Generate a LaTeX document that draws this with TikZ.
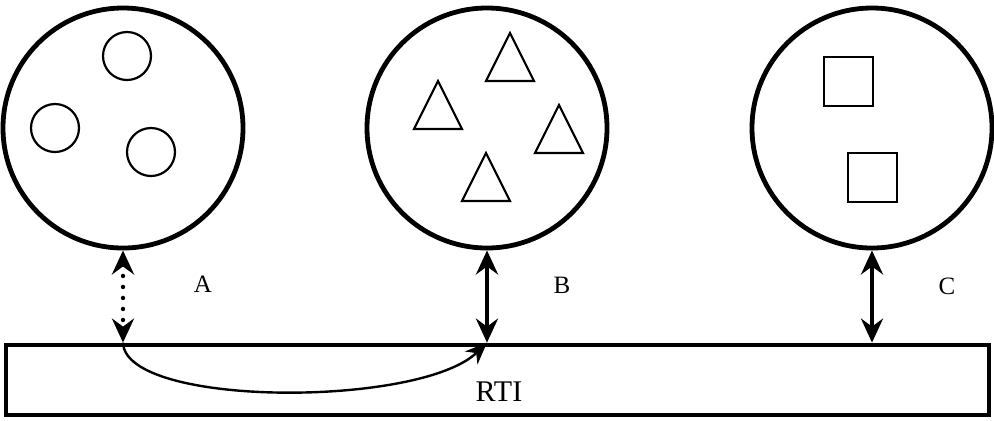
\documentclass[tikz,border=0pt]{standalone}
\usepackage{fontspec}
\setmainfont{Liberation Serif}
\usetikzlibrary{arrows.meta}

\begin{document}
\begin{tikzpicture}[
  x=0.5pt, y=-0.5pt,
  bigcirc/.style={circle, draw, line width=2.4pt, minimum size=120pt, inner sep=0pt},
  smallcirc/.style={circle, draw, line width=1.1pt, minimum size=24pt, inner sep=0pt},
  token/.style={draw, line width=1.1pt, line join=miter},
  curvetip/.style={-{Stealth[length=11pt, width=9pt, inset=3.5pt]}},
  twohead/.style={{Stealth[length=12pt, width=11pt, inset=4pt]}-{Stealth[length=12pt, width=11pt, inset=4pt]}},
  link/.style={twohead, line width=2pt},
  dotlink/.style={twohead, line width=2.2pt, line cap=round, dash pattern=on 0pt off 5.5pt},
  lbl/.style={font=\fontsize{12.5}{14}\selectfont, inner sep=0pt}
]
\useasboundingbox (0,0) rectangle (994,420);

% the three clusters
\node[bigcirc] (pA) at (123,128) {};
\node[bigcirc] (pB) at (487,128) {};
\node[bigcirc] (pC) at (872,128) {};

\node[smallcirc] (a1) at (127,56) {};
\node[smallcirc] (a2) at (55,128) {};
\node[smallcirc] (a3) at (151,152) {};

\foreach \x/\y in {510/33, 438/81, 559/105, 486/153}
  \draw[token] (\x,\y) -- ++(24,48) -- ++(-48,0) -- cycle;

\foreach \x/\y in {824/57, 848/153}
  \draw[token] (\x,\y) rectangle ++(49,49);

% the bar
\node[draw, line width=2.4pt, minimum width=491.5pt, minimum height=35pt, inner sep=0pt]
  (bar) at (497.5,380) {};
\node[font=\fontsize{15}{17}\selectfont, inner sep=0pt] (rti) at (499,392) {RTI};

\coordinate (eA) at (pA.south |- bar.north);
\coordinate (eB) at (pB.south |- bar.north);
\coordinate (eC) at (pC.south |- bar.north);

\draw[dotlink] (pA.south) -- (eA);
\draw[link] (pB.south) -- (eB);
\draw[link] (pC.south) -- (eC);

\draw[curvetip, line width=1.2pt] (eA) .. controls ++(2,65) and ++(-67,65) .. (eB);

\node[lbl] (lA) at (203,284) {A};
\node[lbl] (lB) at (562,285) {B};
\node[lbl] (lC) at (947,286) {C};

\end{tikzpicture}
\end{document}
